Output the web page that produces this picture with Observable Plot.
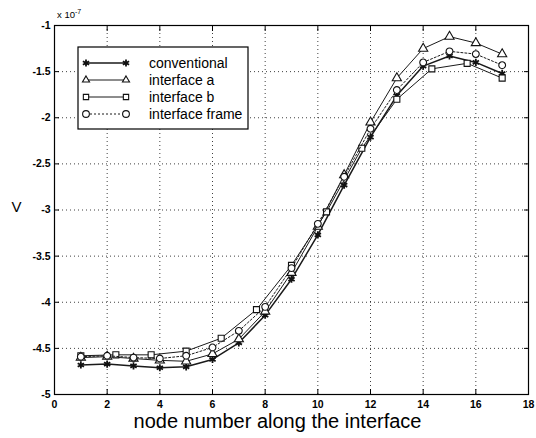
<!DOCTYPE html>
<html><head><meta charset="utf-8">
<script src="https://cdn.jsdelivr.net/npm/d3@7"></script>
<script src="https://cdn.jsdelivr.net/npm/@observablehq/plot@0.6"></script>
<style>body{margin:0;background:#fff}</style>
</head><body><div id="chart"></div>
<script>
// ---- data (values in units of 1e-7) ----
const nodes = [1,2,3,4,5,6,7,8,9,10,11,12,13,14,15,16,17];
const nodesB = [1,2.33,3.67,5,6.33,7.67,9,10.33,11.67,13,14.33,15.67,17];
const conventional = [-4.68,-4.67,-4.69,-4.71,-4.70,-4.62,-4.44,-4.14,-3.75,-3.27,-2.73,-2.21,-1.76,-1.44,-1.33,-1.40,-1.52];
const interfaceA = [-4.60,-4.59,-4.61,-4.63,-4.64,-4.56,-4.40,-4.10,-3.68,-3.18,-2.62,-2.05,-1.57,-1.25,-1.12,-1.19,-1.31];
const interfaceB = [-4.58,-4.57,-4.57,-4.53,-4.39,-4.08,-3.60,-3.02,-2.33,-1.80,-1.47,-1.41,-1.57];
const interfaceFrame = [-4.59,-4.58,-4.60,-4.61,-4.58,-4.49,-4.31,-4.05,-3.63,-3.15,-2.64,-2.12,-1.70,-1.40,-1.28,-1.31,-1.43];
const seriesNames = ["conventional","interface a","interface b","interface frame"];
const xTicks = [0,2,4,6,8,10,12,14,16,18];
const yTicks = [-5,-4.5,-4,-3.5,-3,-2.5,-2,-1.5,-1];
const xLabel = "node number along the interface";
const yLabel = "V";

const toRows = (xs, ys) => xs.map((x,i) => ({x, y: ys[i]}));
const series = [
  {name: seriesNames[0], rows: toRows(nodes, conventional), symbol: "asterisk", dash: null, sw: 1.5},
  {name: seriesNames[1], rows: toRows(nodes, interfaceA), symbol: "triangle", dash: null, sw: 1},
  {name: seriesNames[2], rows: toRows(nodesB, interfaceB), symbol: "square", dash: null, sw: 1},
  {name: seriesNames[3], rows: toRows(nodes, interfaceFrame), symbol: "circle", dash: "2,2", sw: 1}
];

const marks = [
  Plot.gridX({ticks: xTicks, stroke: "#000", strokeOpacity: 0.75, strokeDasharray: "1,3"}),
  Plot.gridY({ticks: yTicks, stroke: "#000", strokeOpacity: 0.75, strokeDasharray: "1,3"}),
  Plot.frame({stroke: "#000", strokeWidth: 1.2}),
  Plot.axisX({ticks: xTicks, tickSize: -5, tickPadding: 11, label: null, fontWeight: "bold"}),
  Plot.axisX({ticks: xTicks, anchor: "top", tickSize: -5, tickFormat: () => "", label: null}),
  Plot.axisY({ticks: yTicks, tickSize: -5, tickPadding: 9, tickFormat: d => String(d), label: null, fontWeight: "bold"}),
  Plot.axisY({ticks: yTicks, anchor: "right", tickSize: -5, tickFormat: () => "", label: null})
];
for (const s of series) {
  marks.push(Plot.line(s.rows, {x: "x", y: "y", stroke: "#1a1a1a", strokeWidth: s.sw, strokeDasharray: s.dash}));
  marks.push(Plot.dot(s.rows, {x: "x", y: "y", symbol: () => s.symbol, r: 3.4, stroke: "#111", strokeWidth: s.symbol === "asterisk" ? 1.8 : 1.1, fill: s.symbol === "asterisk" ? "#111" : "white"}));
}
marks.push(Plot.text([xLabel], {text: d => d, frameAnchor: "bottom", lineAnchor: "bottom", dx: -14, dy: 33, fontSize: 20}));
marks.push(Plot.text([yLabel], {text: d => d, frameAnchor: "left", dx: -43, dy: -3, fontSize: 15}));

const plot = Plot.plot({
  width: 536, height: 438,
  marginLeft: 54, marginRight: 8, marginTop: 25, marginBottom: 44,
  style: {fontFamily: "'Liberation Sans', Arial, sans-serif", fontSize: "10.5px", background: "#fff", color: "#000"},
  x: {domain: [0, 18]},
  y: {domain: [-5, -1]},
  marks
});
document.getElementById("chart").appendChild(plot);

// exponent label and legend
const svg = d3.select(plot);
const ex = svg.append("text").attr("x", 57).attr("y", 18).attr("font-size", 9.5).attr("text-anchor", "start")
  .attr("font-family", "'Liberation Sans', Arial, sans-serif").text("x 10");
ex.append("tspan").attr("dy", -4).attr("font-size", 7).text("-7");

const lg = svg.append("g").attr("font-family", "'Liberation Sans', Arial, sans-serif").attr("text-anchor", "start");
lg.append("rect").attr("x", 78).attr("y", 47).attr("width", 170).attr("height", 82)
  .attr("fill", "white").attr("stroke", "#000").attr("stroke-width", 1.2);
const sym = d3.scaleOrdinal().domain(["asterisk","triangle","square","circle"])
  .range([d3.symbolAsterisk, d3.symbolTriangle2, d3.symbolSquare2, d3.symbolCircle]);
series.forEach((s, i) => {
  const y = 63 + i * 17;
  lg.append("line").attr("x1", 86).attr("x2", 126).attr("y1", y).attr("y2", y)
    .attr("stroke", "#1a1a1a").attr("stroke-width", s.sw).attr("stroke-dasharray", s.dash);
  for (const x of [86, 126]) {
    lg.append("path").attr("transform", `translate(${x},${y})`)
      .attr("d", d3.symbol(sym(s.symbol), 36)())
      .attr("fill", s.symbol === "asterisk" ? "#111" : "white").attr("stroke", "#111")
      .attr("stroke-width", s.symbol === "asterisk" ? 1.8 : 1.1);
  }
  lg.append("text").attr("x", 149).attr("y", y + 5).attr("font-size", 14).text(s.name);
});
</script>
</body></html>
